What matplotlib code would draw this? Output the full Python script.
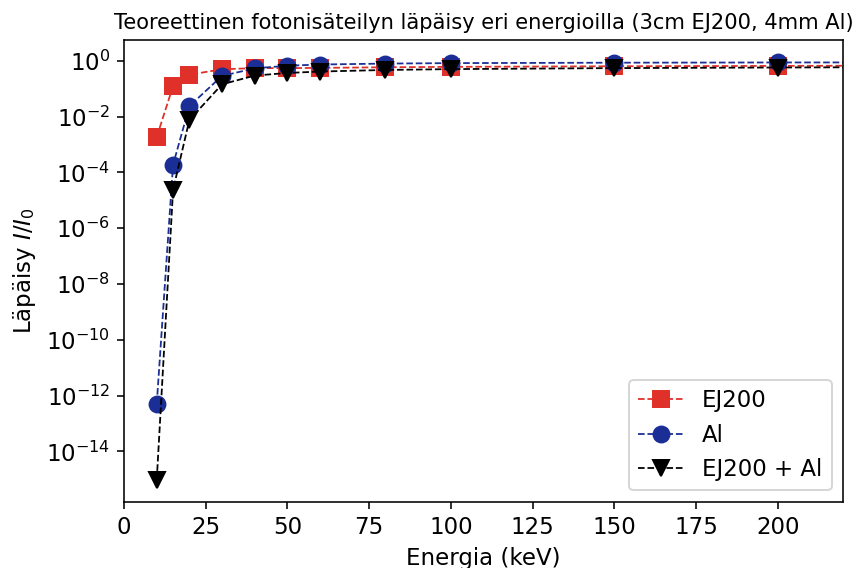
import matplotlib
matplotlib.use("Agg")
import matplotlib.pyplot as plt

energy = [10, 15, 20, 30, 40, 50, 60, 80, 100, 150, 200, 300]
ej200 = [1.85e-3, 0.126, 0.32, 0.50, 0.55, 0.55, 0.56, 0.59, 0.61, 0.64, 0.66, 0.70]
al = [5.0e-13, 1.9e-4, 0.024, 0.29, 0.54, 0.67, 0.74, 0.80, 0.83, 0.86, 0.876, 0.894]
both = [a * b for a, b in zip(ej200, al)]

dpi = 143
fig = plt.figure(figsize=(859 / dpi, 568 / dpi), dpi=dpi)
ax = fig.add_axes([0.1444, 0.1167, 0.9814 - 0.1444, 0.9287 - 0.1167])

ax.plot(energy, ej200, '--s', color='#e0302a', lw=0.9, ms=8, label='EJ200')
ax.plot(energy, al, '--o', color='#1a2e96', lw=0.9, ms=8, label='Al')
ax.plot(energy, both, '--v', color='black', lw=0.9, ms=8, label='EJ200 + Al')

ax.set_yscale('log')
ax.set_xlim(0, 220)
ax.set_ylim(10 ** -15.8, 10 ** 0.73)
ax.set_yticks([10.0 ** k for k in range(-14, 1, 2)])
ax.minorticks_off()
ax.tick_params(labelsize=11.5)
ax.set_xlabel('Energia (keV)', fontsize=11.5)
ax.set_ylabel('Läpäisy $I/I_0$', fontsize=11.5)
ax.set_title('Teoreettinen fotonisäteilyn läpäisy eri energioilla (3cm EJ200, 4mm Al)', fontsize=10.6)
ax.legend(loc='lower right', fontsize=11.5)

fig.savefig('out.png', dpi=dpi)
